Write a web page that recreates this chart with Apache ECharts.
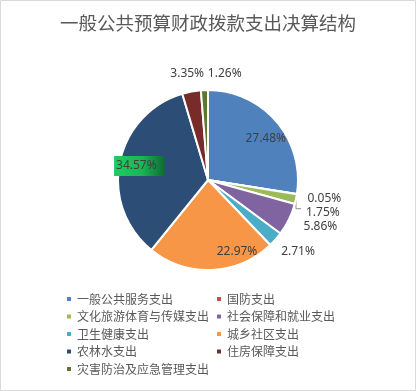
<!DOCTYPE html>
<html><head><meta charset="utf-8">
<script src="https://cdn.jsdelivr.net/npm/echarts@6/dist/echarts.min.js"></script>
<style>html,body{margin:0;padding:0;background:#fff}#c{width:416px;height:391px}</style>
</head><body><div id="c"></div>
<script>
const titleText = '一般公共预算财政拨款支出决算结构';
const categories = ['一般公共服务支出','国防支出','文化旅游体育与传媒支出','社会保障和就业支出','卫生健康支出','城乡社区支出','农林水支出','住房保障支出','灾害防治及应急管理支出'];
const shares = [27.48, 0.05, 1.75, 5.86, 2.71, 22.97, 34.57, 3.35, 1.26];
const colors = ['#4F81BD','#C0504D','#9BBB59','#8064A2','#4BACC6','#F79646','#2C4D75','#772C2A','#5F7530'];
const insideLabels = ['一般公共服务支出','城乡社区支出','农林水支出'];
const farLabels = ['卫生健康支出','住房保障支出'];
const topLabels = ['灾害防治及应急管理支出'];
const leftLegend = categories.filter((c,i)=>i%2===0);
const rightLegend = categories.filter((c,i)=>i%2===1);

const txt = '#404040';
const fmt = p => p.value.toFixed(2) + '%';
const labelOffsets = {'一般公共服务支出':[3,5],'城乡社区支出':[26,0],'卫生健康支出':[9,0],'住房保障支出':[-1,0],'灾害防治及应急管理支出':[21,1],'农林水支出':[2,0]};
const labelled = insideLabels.concat(farLabels, topLabels);

const mainData = categories.map((name,i)=>({
  name, value: shares[i],
  itemStyle:{color:colors[i]},
  label:{show:!labelled.includes(name)},
  labelLine:{show: name==='文化旅游体育与传媒支出'}
}));
function labelSeriesData(list){
  return categories.map((name,i)=>{
    const d = {name, value: shares[i], label:{show:list.includes(name)}};
    if (labelOffsets[name]) d.label.offset = labelOffsets[name];
    if (name==='农林水支出') {
      d.label.backgroundColor = new echarts.graphic.LinearGradient(0,0,1,0,[{offset:0,color:'#20cc62'},{offset:0.55,color:'#1bb556'},{offset:1,color:'#0e6b34'}]);
      d.label.padding = [4,8,4,2];
    }
    return d;
  });
}
const lblStyle = {position:'inside',formatter:fmt,fontSize:12,color:txt,fontFamily:'Noto Sans',padding:[3,3]};
const legendText = {fontSize:12,color:'#595959',fontFamily:'Noto Sans CJK SC'};
function labelSeries(radius, list, pad){
  return {type:'pie',center:[208,180],radius:[0,radius],startAngle:90,clockwise:true,silent:true,
     avoidLabelOverlap:false, labelLayout:{hideOverlap:false},
     itemStyle:{color:'transparent',borderWidth:0},
     label:Object.assign({}, lblStyle, {padding:pad}), labelLine:{show:false}, emphasis:{disabled:true},
     data:labelSeriesData(list)};
}

const chart = echarts.init(document.getElementById('c'));
chart.setOption({
  animation:false,
  title:{text:titleText,left:'center',top:9,textStyle:{fontSize:18.5,fontWeight:'normal',color:'#595959',fontFamily:'Noto Sans CJK SC'}},
  graphic:[{type:'rect',shape:{x:0.5,y:0.5,width:415,height:390},style:{fill:'none',stroke:'#d9d9d9',lineWidth:1},silent:true}],
  legend:[
    {data:leftLegend,orient:'vertical',left:65,top:293,padding:0,itemWidth:6,itemHeight:6,icon:'rect',itemGap:5.5,textStyle:legendText},
    {data:rightLegend,orient:'vertical',left:215,top:293,padding:0,itemWidth:6,itemHeight:6,icon:'rect',itemGap:5.5,textStyle:legendText}
  ],
  series:[
    {type:'pie',center:[208,180],radius:[0,90],startAngle:90,clockwise:true,
     avoidLabelOverlap:true,
     labelLayout:{dy:4},
     itemStyle:{borderColor:'#fff',borderWidth:2},
     label:{position:'outside',formatter:fmt,fontSize:12,color:txt,fontFamily:'Noto Sans'},
     labelLine:{length:4,length2:6,lineStyle:{color:'#8c8c8c',width:1}},
     emphasis:{disabled:true},
     data:mainData},
    labelSeries(138, insideLabels, [3,3]),
    labelSeries(210, farLabels, 0),
    labelSeries(210, topLabels, 0)
  ]
});
</script></body></html>
